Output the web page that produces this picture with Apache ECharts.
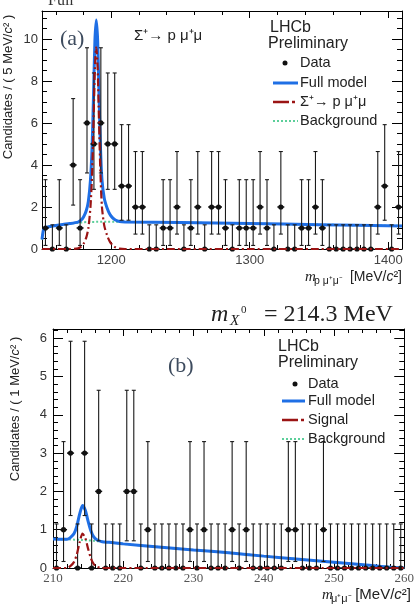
<!DOCTYPE html>
<html>
<head>
<meta charset="utf-8">
<script src="https://cdn.jsdelivr.net/npm/echarts@6/dist/echarts.min.js"></script>
<style>
html, body { margin: 0; padding: 0; background: #fff; }
#chart { width: 417px; height: 607px; }
</style>
</head>
<body>
<div id="chart"></div>
<script>
// ---- panel (a): Sigma+ -> p mu+ mu-, 5 MeV bins ----
var topBins = [1152.5, 1157.5, 1162.5, 1167.5, 1172.5, 1177.5, 1182.5, 1187.5, 1192.5, 1197.5,
    1202.5, 1207.5, 1212.5, 1217.5, 1222.5, 1227.5, 1232.5, 1237.5, 1242.5, 1247.5,
    1252.5, 1257.5, 1262.5, 1267.5, 1272.5, 1277.5, 1282.5, 1287.5, 1292.5, 1297.5,
    1302.5, 1307.5, 1312.5, 1317.5, 1322.5, 1327.5, 1332.5, 1337.5, 1342.5, 1347.5,
    1352.5, 1357.5, 1362.5, 1367.5, 1372.5, 1377.5, 1382.5, 1387.5, 1392.5, 1397.5,
    1402.5, 1407.5];
var topCounts = [1, 0, 1, 0, 4, 1, 6, 5, 6, 5,
    5, 3, 3, 2, 2, 0, 0, 1, 1, 2,
    0, 1, 2, 0, 2, 2, 1, 0, 1, 1,
    1, 2, 1, 0, 2, 0, 0, 1, 1, 2,
    1, 0, 0, 0, 0, 0, 0, 0, 2, 3,
    0, 2];

// model curves
var topMass = [1150, 1151, 1152, 1155, 1160, 1165, 1170, 1176, 1178, 1180,
    1182, 1183.5, 1185, 1186.2, 1187.2, 1188.2, 1189.2, 1190.2, 1191.2, 1192.2,
    1193.3, 1195, 1197, 1199, 1201, 1203, 1206, 1210, 1250, 1300,
    1350, 1410];
var topFull = [0.45, 0.9, 1.0, 1.06, 1.12, 1.17, 1.21, 1.28, 1.36, 1.52,
    1.83, 2.28, 3.29, 4.89, 7.29, 9.89, 10.9, 9.9, 7.3, 4.9,
    3.3, 2.4, 1.95, 1.65, 1.48, 1.38, 1.31, 1.29, 1.26, 1.21,
    1.16, 1.1];
var topSignal = [0, 0, 0, 0, 0, 0, 0, 0.03, 0.1, 0.25,
    0.55, 1.0, 2.0, 3.6, 6.0, 8.6, 9.6, 8.6, 6.0, 3.6,
    2.0, 1.1, 0.65, 0.35, 0.18, 0.08, 0.02, 0, 0, 0,
    0, 0];
var topBkg = [0.45, 0.9, 1.0, 1.06, 1.12, 1.17, 1.21, 1.25, 1.26, 1.27,
    1.28, 1.28, 1.29, 1.29, 1.29, 1.29, 1.3, 1.3, 1.3, 1.3,
    1.3, 1.3, 1.3, 1.3, 1.3, 1.3, 1.29, 1.29, 1.26, 1.21,
    1.16, 1.1];

// ---- panel (b): X0 -> mu+ mu-, 1 MeV bins ----
var botBins = [210.5, 211.5, 212.5, 213.5, 214.5, 215.5, 216.5, 217.5, 218.5, 219.5,
    220.5, 221.5, 222.5, 223.5, 224.5, 225.5, 226.5, 227.5, 228.5, 229.5,
    230.5, 231.5, 232.5, 233.5, 234.5, 235.5, 236.5, 237.5, 238.5, 239.5,
    240.5, 241.5, 242.5, 243.5, 244.5, 245.5, 246.5, 247.5, 248.5, 249.5,
    250.5, 251.5, 252.5, 253.5, 254.5, 255.5, 256.5, 257.5, 258.5, 259.5];
var botCounts = [0, 1, 3, 0, 3, 0, 2, 0, 0, 0,
    2, 2, 0, 1, 0, 0, 0, 0, 0, 1,
    0, 1, 0, 0, 0, 1, 0, 1, 0, 0,
    0, 0, 0, 1, 1, 0, 0, 0, 1, 0,
    0, 0, 0, 0, 0, 0, 0, 0, 0, 0];

var botMass = [210, 212, 212.5, 213, 213.4, 213.8, 214.2, 214.6, 215, 215.4,
    215.8, 216.3, 217, 218, 220, 225, 230, 235, 240, 245,
    250, 255, 258, 260];
var botFull = [0.76, 0.75, 0.8, 0.9, 1.1, 1.415, 1.63, 1.505, 1.22, 0.965,
    0.81, 0.73, 0.685, 0.67, 0.63, 0.55, 0.47, 0.40, 0.31, 0.23,
    0.15, 0.07, 0.02, 0.0];
var botSignal = [0, 0, 0.055, 0.16, 0.36, 0.68, 0.9, 0.78, 0.5, 0.25,
    0.1, 0.03, 0, 0, 0, 0, 0, 0, 0, 0,
    0, 0, 0, 0];
var botBkg = [0.76, 0.75, 0.745, 0.74, 0.74, 0.735, 0.73, 0.725, 0.72, 0.715,
    0.71, 0.70, 0.685, 0.67, 0.63, 0.55, 0.47, 0.40, 0.31, 0.23,
    0.15, 0.07, 0.02, 0.0];

// Poisson 68% intervals for n = 0..6
var poisLo = [0, 0.17, 0.71, 1.37, 2.09, 2.84, 3.62];
var poisHi = [1.15, 3.30, 4.64, 5.92, 7.16, 8.38, 9.58];

// tick labels
var topXTicks = [1200, 1300, 1400];
var topYTicks = [0, 2, 4, 6, 8, 10];
var botXTicks = [210, 220, 230, 240, 250, 260];
var botYTicks = [0, 1, 2, 3, 4, 5, 6];

var SANS = '"Liberation Sans", Arial, sans-serif';
var SERIF = '"Liberation Serif", "Times New Roman", serif';
var BLUE = '#1f6fe5', RED = '#9b1414', GREEN = '#5ccf9a';

function steps(a, b, d, skip) {
    var out = [];
    for (var v = a; v <= b + 1e-9; v += d) {
        var r = Math.round(v * 1000) / 1000;
        if (skip.indexOf(r) < 0) out.push(r);
    }
    return out;
}

function tickAxes(kind, grid, min, max, major, minor, label) {
    var sides = kind === 'x' ? ['bottom', 'top'] : ['left', 'right'];
    var majorLen = kind === 'x' ? 7 : 10, minorLen = kind === 'x' ? 4 : 5;
    var out = [];
    sides.forEach(function (pos, s) {
        out.push({
            type: 'value', gridIndex: grid, position: pos, min: min, max: max,
            axisLine: {show: true, onZero: false, lineStyle: {color: '#000', width: 1}},
            axisTick: {show: true, inside: true, length: majorLen, customValues: major, lineStyle: {color: '#000'}},
            axisLabel: s === 0 ? Object.assign({
                show: true, customValues: major, showMinLabel: true, showMaxLabel: true,
                formatter: function (v) { return String(v); }
            }, label) : {show: false},
            splitLine: {show: false}
        });
        out.push({
            type: 'value', gridIndex: grid, position: pos, min: min, max: max,
            axisLine: {show: false, onZero: false},
            axisTick: {show: true, inside: true, length: minorLen, customValues: minor, lineStyle: {color: '#000'}},
            axisLabel: {show: false},
            splitLine: {show: false}
        });
    });
    return out;
}

function errData(bins, counts, hw) {
    return bins.map(function (m, i) {
        var n = counts[i];
        return [m, n, poisLo[n], poisHi[n], hw];
    });
}

function renderErr(params, api) {
    var x = api.value(0), y = api.value(1), hw = api.value(4);
    var lo = api.coord([x, api.value(2)]);
    var hi = api.coord([x, api.value(3)]);
    var c = api.coord([x, y]);
    var l = api.coord([x - hw, y]);
    var r = api.coord([x + hw, y]);
    var st = {stroke: '#1a1a1a', lineWidth: 1.1};
    return {
        type: 'group',
        children: [
            {type: 'line', shape: {x1: lo[0], y1: lo[1], x2: hi[0], y2: hi[1]}, style: st},
            {type: 'line', shape: {x1: hi[0] - 2, y1: hi[1], x2: hi[0] + 2, y2: hi[1]}, style: st},
            {type: 'line', shape: {x1: lo[0] - 2, y1: lo[1], x2: lo[0] + 2, y2: lo[1]}, style: st},
            {type: 'line', shape: {x1: l[0], y1: l[1], x2: r[0], y2: r[1]}, style: {stroke: '#111', lineWidth: 1.5}},
            {type: 'circle', shape: {cx: c[0], cy: c[1], r: 2.6}, style: {fill: '#111'}}
        ]
    };
}

function curve(name, mass, vals, xi, yi, color, width, dash, z) {
    return {
        name: name, type: 'line', xAxisIndex: xi, yAxisIndex: yi,
        data: mass.map(function (m, i) { return [m, vals[i]]; }),
        showSymbol: false, smooth: 0.25, z: z, silent: true,
        lineStyle: {color: color, width: width, type: dash}
    };
}

// plain text element: size in px, family, optional extra style
function txt(x, y, text, size, family, extra) {
    return {
        type: 'text', x: x, y: y, silent: true,
        style: Object.assign({
            text: text, fontSize: size, fontFamily: family, fill: '#222',
            align: 'left', verticalAlign: 'middle'
        }, extra || {})
    };
}
function seg(x1, x2, y, color, width, dash) {
    return {
        type: 'line', silent: true, shape: {x1: x1, y1: y, x2: x2, y2: y},
        style: {stroke: color, lineWidth: width, lineDash: dash || null}
    };
}

var xAxes = []
    .concat(tickAxes('x', 0, 1150, 1410, topXTicks, steps(1160, 1400, 20, topXTicks),
        {margin: 5, fontSize: 13, fontFamily: SANS, color: '#444'}))
    .concat(tickAxes('x', 1, 210, 260, botXTicks, steps(212, 258, 2, botXTicks),
        {margin: 4, fontSize: 13, fontFamily: SERIF, color: '#555'}));
var yAxes = []
    .concat(tickAxes('y', 0, 0, 11.33, topYTicks, steps(0.5, 11, 0.5, topYTicks),
        {margin: 4, fontSize: 13, fontFamily: SANS, color: '#333'}))
    .concat(tickAxes('y', 1, 0, 6.24, botYTicks, steps(0.2, 6.2, 0.2, botYTicks),
        {margin: 6, fontSize: 13, fontFamily: SANS, color: '#333'}));

function unitRich(size) {
    return {
        a: {fontSize: size, fontFamily: SANS, fill: '#222'},
        i: {fontSize: size, fontFamily: SANS, fontStyle: 'italic', fill: '#222'}
    };
}

var chart = echarts.init(document.getElementById('chart'));
var option = {
    animation: false,
    grid: [
        {left: 42, top: 11, width: 360, height: 238},
        {left: 53, top: 329, width: 358, height: 239}
    ],
    xAxis: xAxes,
    yAxis: yAxes,
    series: [
        curve('Background', topMass, topBkg, 0, 0, GREEN, 2, [2, 2], 2),
        curve('Full model', topMass, topFull, 0, 0, BLUE, 3, 'solid', 3),
        {
            name: 'Data', type: 'custom', xAxisIndex: 0, yAxisIndex: 0, z: 4,
            renderItem: renderErr, data: errData(topBins, topCounts, 2.5)
        },
        curve('Signal', topMass, topSignal, 0, 0, RED, 2.2, [8, 3, 2, 3], 5),

        curve('Background', botMass, botBkg, 4, 4, GREEN, 2, [2, 2], 2),
        curve('Full model', botMass, botFull, 4, 4, BLUE, 3, 'solid', 3),
        {
            name: 'Data', type: 'custom', xAxisIndex: 4, yAxisIndex: 4, z: 4,
            renderItem: renderErr, data: errData(botBins, botCounts, 0.5)
        },
        curve('Signal', botMass, botSignal, 4, 4, RED, 2.2, [8, 3, 2, 3], 5)
    ],
    graphic: [
        // panel (a) annotations
        txt(48, 9, 'Full', 16, SERIF, {verticalAlign: 'bottom', fill: '#333'}),
        txt(60, 39, '(a)', 22, SERIF, {fill: '#3d4b5e'}),
        txt(134, 36, 'Σ⁺→ p μ⁺μ', 15, SANS),
        txt(270, 28, 'LHCb', 16, SANS),
        txt(268, 44, 'Preliminary', 16, SANS),
        {type: 'circle', silent: true, shape: {cx: 285, cy: 63, r: 2.5}, style: {fill: '#111'}},
        txt(300, 63, 'Data', 14.5, SANS),
        seg(273, 298, 83, BLUE, 3),
        txt(300, 83, 'Full model', 14.5, SANS),
        seg(273, 298, 102, RED, 2.5, [16, 3, 3, 10]),
        txt(300, 102, 'Σ⁺→ p μ⁺μ', 14.5, SANS),
        seg(273, 298, 121, GREEN, 2, [2, 2]),
        txt(300, 121, 'Background', 14.5, SANS),
        {
            type: 'text', x: 8, y: 87, rotation: Math.PI / 2, silent: true,
            style: {text: '{a|Candidates / ( 5 MeV/}{i|c}{a|² )}', rich: unitRich(13), align: 'center', verticalAlign: 'middle'}
        },
        txt(305, 277, 'm', 15, SERIF, {fontStyle: 'italic'}),
        txt(314, 281, 'p μ⁺μ⁻', 10.5, SANS),
        {
            type: 'text', x: 402, y: 277, silent: true,
            style: {text: '{a|[MeV/}{i|c}{a|²]}', rich: unitRich(14), align: 'right', verticalAlign: 'middle'}
        },

        // panel (b) annotations
        txt(211, 315, 'm', 24, SERIF, {fontStyle: 'italic'}),
        txt(230, 321, 'X', 15, SERIF, {fontStyle: 'italic'}),
        txt(241, 310, '0', 11, SERIF),
        txt(264, 315, '= 214.3 MeV', 24, SERIF),
        txt(168, 366, '(b)', 22, SERIF, {fill: '#3d4b5e'}),
        txt(278, 347, 'LHCb', 16, SANS),
        txt(278, 363, 'Preliminary', 16, SANS),
        {type: 'circle', silent: true, shape: {cx: 295, cy: 384, r: 2.5}, style: {fill: '#111'}},
        txt(308, 384, 'Data', 14.5, SANS),
        seg(282, 305, 401, BLUE, 3),
        txt(308, 401, 'Full model', 14.5, SANS),
        seg(282, 305, 420, RED, 2.5, [16, 3, 3, 10]),
        txt(308, 420, 'Signal', 14.5, SANS),
        seg(282, 305, 439, GREEN, 2, [2, 2]),
        txt(308, 439, 'Background', 14.5, SANS),
        {
            type: 'text', x: 15, y: 409, rotation: Math.PI / 2, silent: true,
            style: {text: '{a|Candidates / ( 1 MeV/}{i|c}{a|² )}', rich: unitRich(13), align: 'center', verticalAlign: 'middle'}
        },
        txt(322, 595, 'm', 15, SERIF, {fontStyle: 'italic'}),
        txt(331, 599, 'μ⁺μ⁻', 11, SANS),
        {
            type: 'text', x: 411, y: 595, silent: true,
            style: {text: '{a|[MeV/}{i|c}{a|²]}', rich: unitRich(15), align: 'right', verticalAlign: 'middle'}
        }
    ]
};
chart.setOption(option);
</script>
</body>
</html>
